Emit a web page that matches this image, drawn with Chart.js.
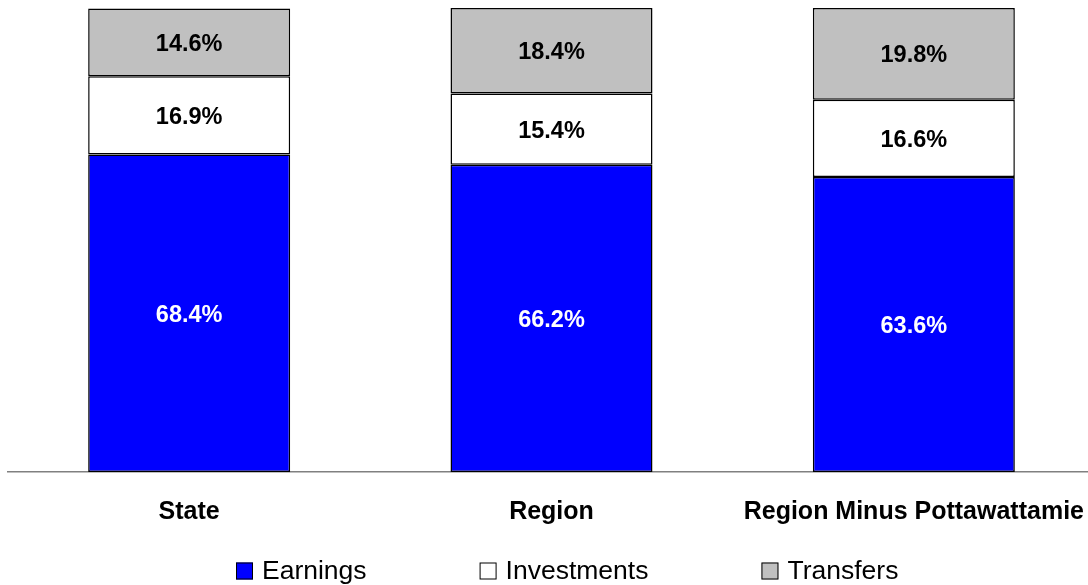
<!DOCTYPE html>
<html>
<head>
<meta charset="utf-8">
<script src="https://cdn.jsdelivr.net/npm/chart.js@4/dist/chart.umd.min.js"></script>
<style>
    html, body { margin: 0; padding: 0; background: #fff; overflow: hidden; }
    #wrap { width: 1100px; height: 585px; }
</style>
</head>
<body>
<div id="wrap"><canvas id="incomeChart" width="1100" height="585"></canvas></div>
<script>
// Anteile am Einkommen (in %)
const categories = ['State', 'Region', 'Region Minus Pottawattamie'];
const earnings = [68.4, 66.2, 63.6];
const investments = [16.9, 15.4, 16.6];
const transfers = [14.6, 18.4, 19.8];

const fontFamily = "'Liberation Sans', Arial, sans-serif";

// Prozentwerte mittig in die Segmente schreiben
const valueLabels = {
    id: 'valueLabels',
    afterDatasetsDraw(chart) {
        const ctx = chart.ctx;
        ctx.save();
        ctx.font = 'bold 23.5px ' + fontFamily;
        ctx.textAlign = 'center';
        ctx.textBaseline = 'middle';
        chart.data.datasets.forEach((ds, i) => {
            const meta = chart.getDatasetMeta(i);
            meta.data.forEach((bar, j) => {
                const y = (bar.y + bar.base) / 2;
                ctx.fillStyle = ds.labelColor;
                ctx.fillText(ds.data[j].toFixed(1) + '%', bar.x, y + 2);
            });
        });
        ctx.restore();
    }
};

// Legende unten, Einträge mit festen Abständen
const bottomLegend = {
    id: 'bottomLegend',
    afterDraw(chart) {
        const ctx = chart.ctx;
        const box = 17, textGap = 9, itemGap = 113;
        const centerX = 567, centerY = 571;
        ctx.save();
        ctx.font = '26.5px ' + fontFamily;
        ctx.textBaseline = 'middle';
        ctx.textAlign = 'left';
        const items = chart.data.datasets.map(ds => ({
            text: ds.label,
            color: ds.backgroundColor,
            width: box + textGap + ctx.measureText(ds.label).width
        }));
        const total = items.reduce((s, it) => s + it.width, 0) + itemGap * (items.length - 1);
        let x = Math.round(centerX - total / 2);
        items.forEach(it => {
            ctx.fillStyle = it.color;
            ctx.fillRect(x, centerY - box / 2, box, box);
            ctx.strokeStyle = '#000';
            ctx.lineWidth = 1;
            ctx.strokeRect(x + 0.5, centerY - box / 2 + 0.5, box - 1, box - 1);
            ctx.fillStyle = '#000';
            ctx.fillText(it.text, x + box + textGap, centerY + 1);
            x += it.width + itemGap;
        });
        ctx.restore();
    }
};

const ctx = document.getElementById('incomeChart').getContext('2d');
const incomeChart = new Chart(ctx, {
    type: 'bar',
    data: {
        labels: categories,
        datasets: [{
            label: 'Earnings',
            data: earnings,
            backgroundColor: '#0000ff',
            labelColor: '#ffffff',
        }, {
            label: 'Investments',
            data: investments,
            backgroundColor: '#ffffff',
            labelColor: '#000000',
        }, {
            label: 'Transfers',
            data: transfers,
            backgroundColor: '#c0c0c0',
            labelColor: '#000000',
        }],
    },
    options: {
        responsive: false,
        animation: false,
        devicePixelRatio: 1,
        layout: {
            padding: { left: 8, right: 5, top: 8, bottom: 0 },
        },
        datasets: {
            bar: {
                borderColor: '#000000',
                borderWidth: 1.5,
                borderSkipped: false,
                categoryPercentage: 1,
                barPercentage: 0.5575,
            },
        },
        plugins: {
            legend: { display: false },
            tooltip: { enabled: false },
        },
        scales: {
            x: {
                stacked: true,
                grid: { display: false, drawTicks: false },
                border: { display: true, color: '#808080', width: 1.5 },
                ticks: {
                    color: '#000000',
                    padding: 25,
                    font: { family: fontFamily, size: 25, weight: 'bold' },
                },
                // Platz unter der Achse für Beschriftung und Legende
                afterFit(scale) {
                    scale.height = 113;
                    scale.paddingLeft = 0;
                    scale.paddingRight = 0;
                },
            },
            y: {
                stacked: true,
                display: false,
                min: 0,
                max: 100,
            },
        },
    },
    plugins: [valueLabels, bottomLegend],
});
</script>
</body>
</html>
